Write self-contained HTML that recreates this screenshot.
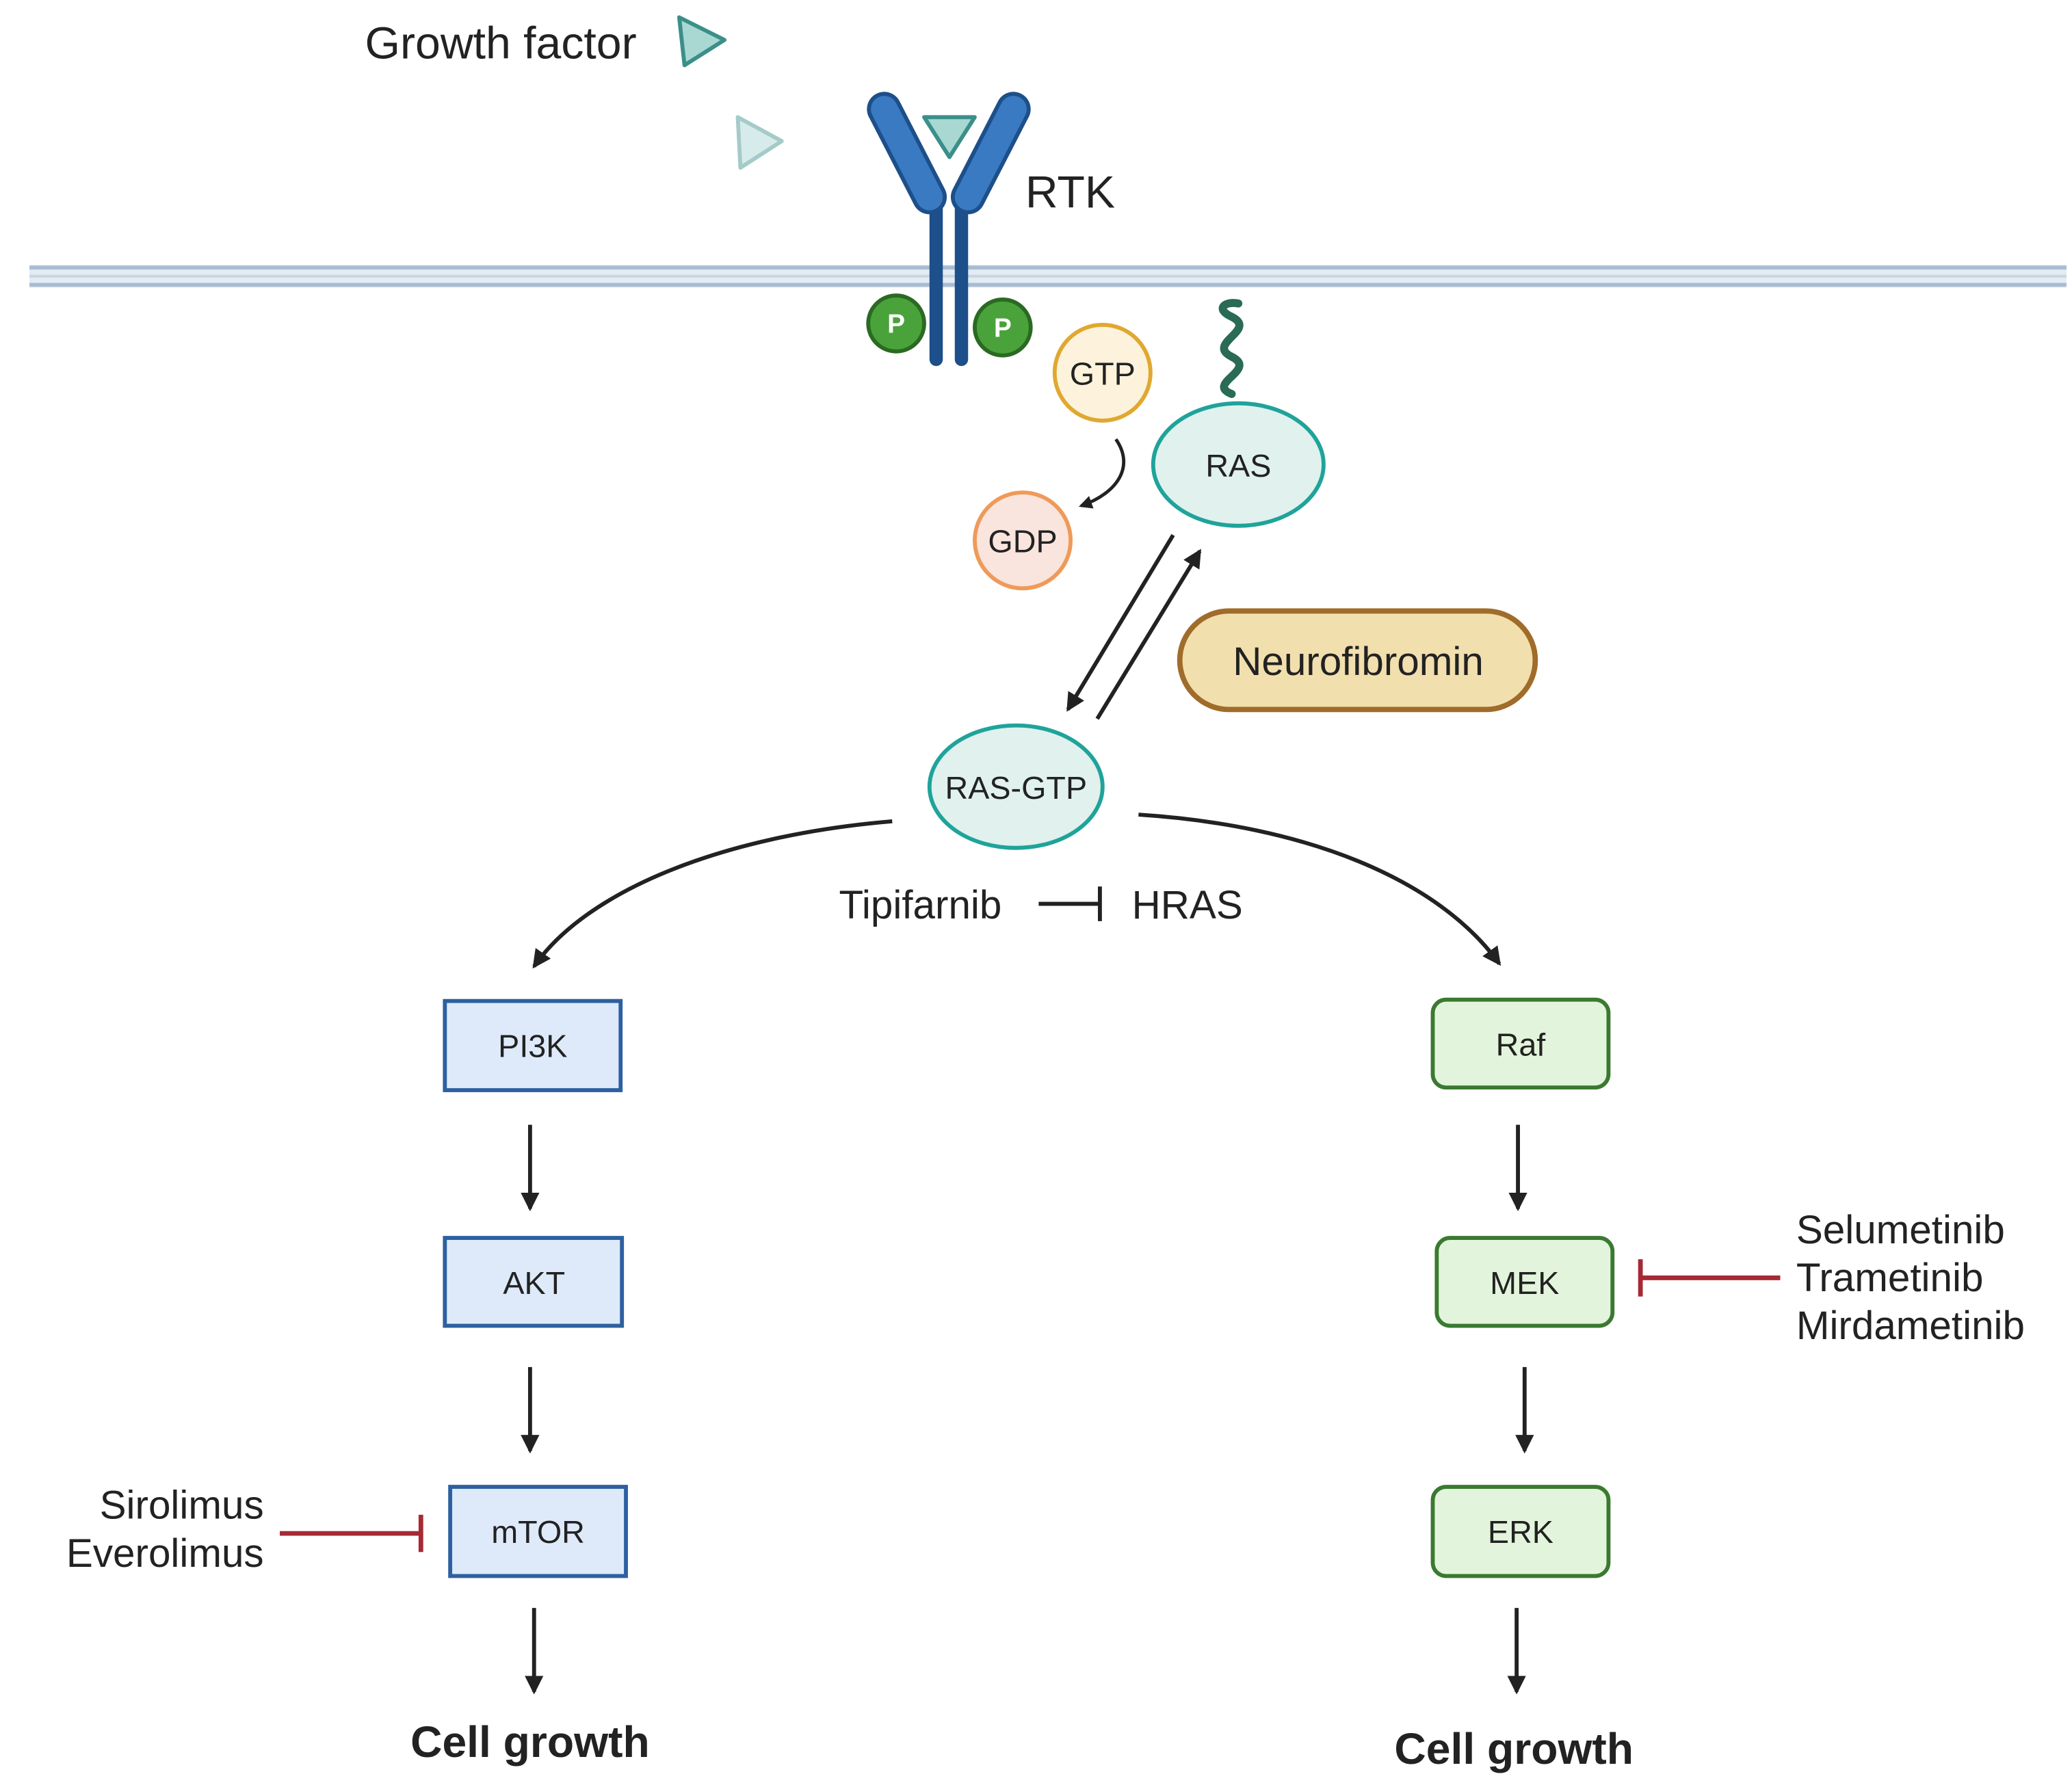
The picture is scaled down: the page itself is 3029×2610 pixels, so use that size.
<!DOCTYPE html>
<html><head><meta charset="utf-8"><style>
html,body{margin:0;padding:0;background:#fff;}
svg{display:block;}
text{font-family:"Liberation Sans",sans-serif;fill:#222;}
</style></head><body>
<svg width="3029" height="2610" viewBox="0 0 1556 1341" xmlns="http://www.w3.org/2000/svg">
<defs>
<marker id="ah" markerWidth="10" markerHeight="10" refX="8" refY="5" orient="auto" markerUnits="userSpaceOnUse"><path d="M0,0 L10,5 L0,10 Z" fill="#222"/></marker>
<marker id="ahs" markerWidth="14" markerHeight="14" refX="12" refY="7" orient="auto" markerUnits="userSpaceOnUse"><path d="M0,0 L14,7 L0,14 Z" fill="#222"/></marker>
</defs>
<rect width="1556" height="1341" fill="#fff"/>
<!-- membrane -->
<rect x="22" y="199" width="1530" height="17" fill="#e3ebf3"/>
<line x1="22" y1="201" x2="1552" y2="201" stroke="#a9bcd2" stroke-width="3"/>
<line x1="22" y1="214" x2="1552" y2="214" stroke="#a9bcd2" stroke-width="3"/>
<line x1="22" y1="207.5" x2="1552" y2="207.5" stroke="#c8d5e3" stroke-width="2"/>
<!-- growth factor -->
<text x="274" y="44" font-size="34">Growth factor</text>
<path d="M510,13 L544,30 L514,49 Z" fill="#a9d8d3" stroke="#3b8f89" stroke-width="3" stroke-linejoin="round"/>
<path d="M554,88 L587,106 L556,126 Z" fill="#d7ecea" stroke="#a5cbc8" stroke-width="3" stroke-linejoin="round"/>
<!-- RTK -->
<g stroke="#1d4f8a" stroke-linecap="round" fill="none">
<line x1="703" y1="150" x2="703" y2="270" stroke-width="10"/>
<line x1="722" y1="150" x2="722" y2="270" stroke-width="10"/>
</g>
<g stroke-linecap="round" fill="none">
<line x1="664" y1="82" x2="698" y2="148" stroke="#1d4f8a" stroke-width="26"/>
<line x1="761" y1="82" x2="727" y2="148" stroke="#1d4f8a" stroke-width="26"/>
<line x1="664" y1="82" x2="698" y2="148" stroke="#3a7ac2" stroke-width="20"/>
<line x1="761" y1="82" x2="727" y2="148" stroke="#3a7ac2" stroke-width="20"/>
</g>
<path d="M694,88 L732,88 L713,118 Z" fill="#a9d8d3" stroke="#3b8f89" stroke-width="3" stroke-linejoin="round"/>
<text x="770" y="156" font-size="34">RTK</text>
<!-- P -->
<circle cx="673" cy="243" r="21" fill="#4aa23b" stroke="#2a6a22" stroke-width="3"/>
<text x="673" y="250" font-size="20" font-weight="bold" text-anchor="middle" style="fill:#fff">P</text>
<circle cx="753" cy="246" r="21" fill="#4aa23b" stroke="#2a6a22" stroke-width="3"/>
<text x="753" y="253" font-size="20" font-weight="bold" text-anchor="middle" style="fill:#fff">P</text>
<!-- GTP GDP -->
<circle cx="828" cy="280" r="36" fill="#fdf3dc" stroke="#e0a830" stroke-width="3"/>
<text x="828" y="289" font-size="24" text-anchor="middle">GTP</text>
<circle cx="768" cy="406" r="36" fill="#f9e4de" stroke="#ef9a5a" stroke-width="3"/>
<text x="768" y="415" font-size="24" text-anchor="middle">GDP</text>
<path d="M838,330 C852,350 840,370 812,380" fill="none" stroke="#222" stroke-width="2.5" marker-end="url(#ah)"/>
<!-- RAS -->
<path d="M925,296 C905,288 945,278 925,268 C905,258 945,248 925,238 C912,232 920,226 930,228" fill="none" stroke="#2b6a55" stroke-width="6" stroke-linecap="round"/>
<ellipse cx="930" cy="349" rx="64" ry="46" fill="#e0f1ee" stroke="#1fa39a" stroke-width="3"/>
<text x="930" y="358" font-size="24" text-anchor="middle">RAS</text>
<line x1="881" y1="402" x2="802" y2="533" stroke="#222" stroke-width="3" marker-end="url(#ahs)"/>
<line x1="824" y1="540" x2="901" y2="414" stroke="#222" stroke-width="3" marker-end="url(#ahs)"/>
<rect x="886" y="459" width="267" height="74" rx="37" fill="#f2dfae" stroke="#a06c2a" stroke-width="4"/>
<text x="1020" y="507" font-size="30" text-anchor="middle">Neurofibromin</text>
<ellipse cx="763" cy="591" rx="65" ry="46" fill="#e0f1ee" stroke="#1fa39a" stroke-width="3"/>
<text x="763" y="600" font-size="24" text-anchor="middle">RAS-GTP</text>
<path d="M670,617 C540,628 440,670 401,726" fill="none" stroke="#222" stroke-width="3" marker-end="url(#ahs)"/>
<path d="M855,612 C980,620 1080,660 1126,724" fill="none" stroke="#222" stroke-width="3" marker-end="url(#ahs)"/>
<text x="630" y="690" font-size="30">Tipifarnib</text>
<line x1="780" y1="679" x2="826" y2="679" stroke="#222" stroke-width="3"/>
<line x1="826" y1="666" x2="826" y2="692" stroke="#222" stroke-width="3"/>
<text x="850" y="690" font-size="30">HRAS</text>
<!-- left -->
<g fill="#deeafa" stroke="#2d60a0" stroke-width="3">
<rect x="334" y="752" width="132" height="67"/>
<rect x="334" y="930" width="133" height="66"/>
<rect x="338" y="1117" width="132" height="67"/>
</g>
<text x="400" y="794" font-size="24" text-anchor="middle">PI3K</text>
<text x="401" y="972" font-size="24" text-anchor="middle">AKT</text>
<text x="404" y="1159" font-size="24" text-anchor="middle">mTOR</text>
<g stroke="#222" stroke-width="3" marker-end="url(#ahs)">
<line x1="398" y1="845" x2="398" y2="908"/>
<line x1="398" y1="1027" x2="398" y2="1090"/>
<line x1="401" y1="1208" x2="401" y2="1271"/>
<line x1="1140" y1="845" x2="1140" y2="908"/>
<line x1="1145" y1="1027" x2="1145" y2="1090"/>
<line x1="1139" y1="1208" x2="1139" y2="1271"/>
</g>
<text x="398" y="1320" font-size="33" font-weight="bold" text-anchor="middle">Cell growth</text>
<text x="198" y="1141" font-size="30" text-anchor="end">Sirolimus</text>
<text x="198" y="1177" font-size="30" text-anchor="end">Everolimus</text>
<line x1="210" y1="1152" x2="316" y2="1152" stroke="#a62a35" stroke-width="3.5"/>
<line x1="316" y1="1138" x2="316" y2="1166" stroke="#a62a35" stroke-width="3.5"/>
<!-- right -->
<g fill="#e3f4dc" stroke="#3a7a30" stroke-width="3">
<rect x="1076" y="751" width="132" height="66" rx="10"/>
<rect x="1079" y="930" width="132" height="66" rx="10"/>
<rect x="1076" y="1117" width="132" height="67" rx="10"/>
</g>
<text x="1142" y="793" font-size="24" text-anchor="middle">Raf</text>
<text x="1145" y="972" font-size="24" text-anchor="middle">MEK</text>
<text x="1142" y="1159" font-size="24" text-anchor="middle">ERK</text>
<text x="1137" y="1325" font-size="33" font-weight="bold" text-anchor="middle">Cell growth</text>
<line x1="1232" y1="960" x2="1337" y2="960" stroke="#a62a35" stroke-width="3.5"/>
<line x1="1232" y1="946" x2="1232" y2="974" stroke="#a62a35" stroke-width="3.5"/>
<text x="1349" y="934" font-size="30">Selumetinib</text>
<text x="1349" y="970" font-size="30">Trametinib</text>
<text x="1349" y="1006" font-size="30">Mirdametinib</text>
</svg>
</body></html>
